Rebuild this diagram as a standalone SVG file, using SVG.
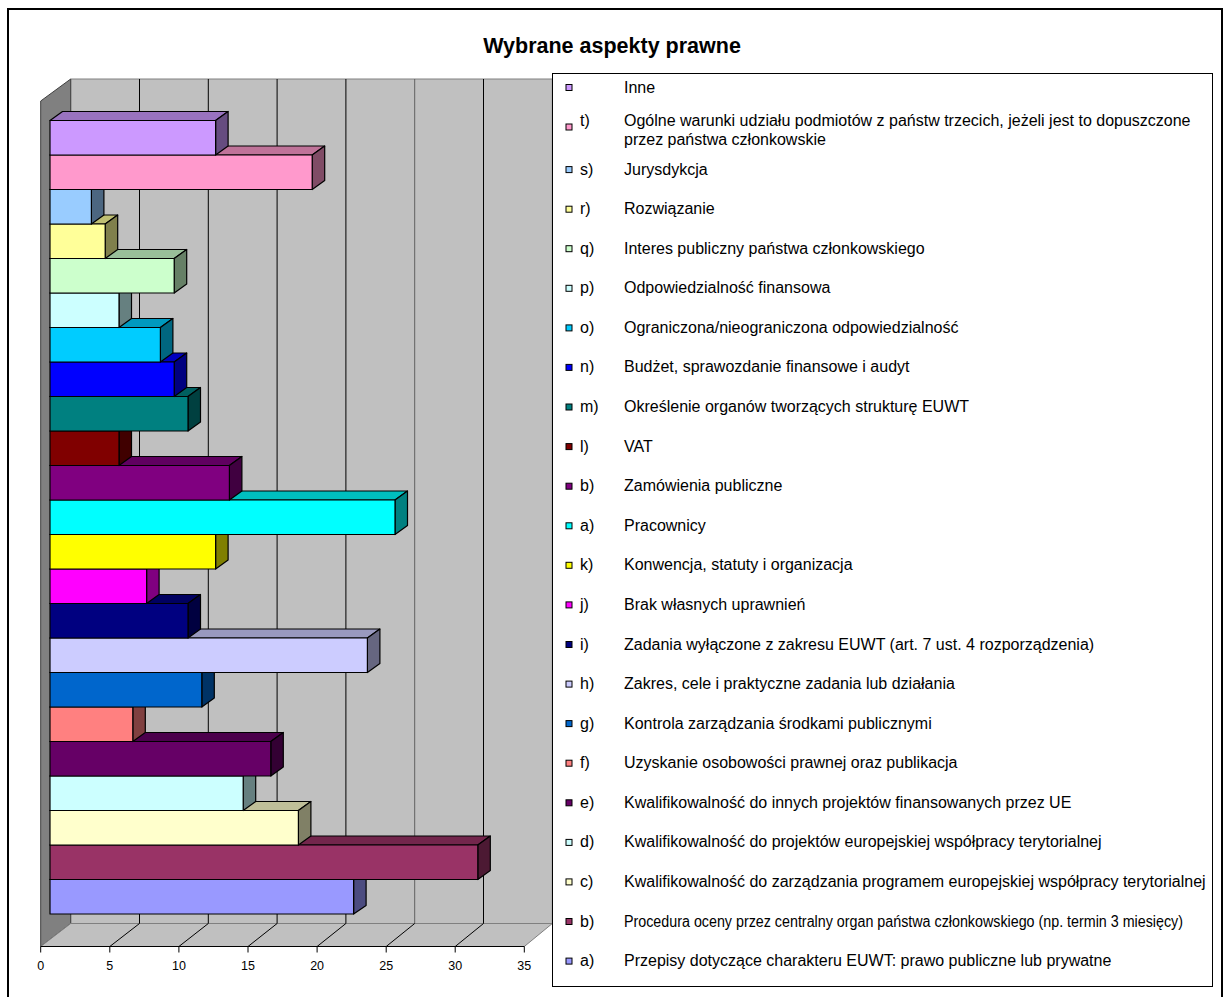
<svg xmlns="http://www.w3.org/2000/svg" width="1224" height="997" viewBox="0 0 1224 997">
<style>
text{font-family:"Liberation Sans",Arial,sans-serif;fill:#000}
.title{font-size:21.5px;font-weight:bold;text-anchor:middle}
.tick{font-size:12.5px;text-anchor:middle}
.lg{font-size:16px}
.bars polygon,.bars rect{stroke:#000;stroke-width:1.2;stroke-linejoin:round}
.grid{stroke:#000;stroke-width:1}
.mk{stroke:#000;stroke-width:1}
</style>
<rect x="8" y="9" width="1214" height="1000" fill="#fff" stroke="#000" stroke-width="2"/>
<text class="title" x="612" y="53">Wybrane aspekty prawne</text>

<g id="axes">
<polygon points="70.7,79 552.3,79 552.3,923.5 70.7,923.5" fill="#C0C0C0" stroke="#808080" stroke-width="1"/>
<polygon points="40.7,101 70.7,79 70.7,923.5 40.7,946.5" fill="#808080" stroke="#404040" stroke-width="1"/>
<polygon points="40.7,946.5 70.7,923.5 552.3,923.5 524.3,946.5" fill="#C0C0C0" stroke="#808080" stroke-width="1"/>
<g class="grid">
<line x1="139.5" y1="79" x2="139.5" y2="923.5"/>
<line x1="208.3" y1="79" x2="208.3" y2="923.5"/>
<line x1="277.1" y1="79" x2="277.1" y2="923.5"/>
<line x1="345.9" y1="79" x2="345.9" y2="923.5"/>
<line x1="414.7" y1="79" x2="414.7" y2="923.5" stroke="#606060"/>
<line x1="483.5" y1="79" x2="483.5" y2="923.5"/>
<line x1="139.5" y1="923.5" x2="109.8" y2="946.5"/>
<line x1="208.3" y1="923.5" x2="178.9" y2="946.5"/>
<line x1="277.1" y1="923.5" x2="248" y2="946.5"/>
<line x1="345.9" y1="923.5" x2="317.1" y2="946.5"/>
<line x1="414.7" y1="923.5" x2="386.2" y2="946.5"/>
<line x1="483.5" y1="923.5" x2="455.2" y2="946.5"/>
<line x1="40.7" y1="946.5" x2="524.3" y2="946.5"/>
<line x1="40.7" y1="946.5" x2="40.7" y2="952.5"/>
<line x1="109.8" y1="946.5" x2="109.8" y2="952.5"/>
<line x1="178.9" y1="946.5" x2="178.9" y2="952.5"/>
<line x1="248" y1="946.5" x2="248" y2="952.5"/>
<line x1="317.1" y1="946.5" x2="317.1" y2="952.5"/>
<line x1="386.2" y1="946.5" x2="386.2" y2="952.5"/>
<line x1="455.2" y1="946.5" x2="455.2" y2="952.5"/>
<line x1="524.3" y1="946.5" x2="524.3" y2="952.5"/>
</g>
<text class="tick" x="40.7" y="970">0</text>
<text class="tick" x="109.8" y="970">5</text>
<text class="tick" x="178.9" y="970">10</text>
<text class="tick" x="248" y="970">15</text>
<text class="tick" x="317.1" y="970">20</text>
<text class="tick" x="386.2" y="970">25</text>
<text class="tick" x="455.2" y="970">30</text>
<text class="tick" x="524.3" y="970">35</text>
</g>

<g class="bars">
<g id="bar-a-przepisy"><polygon fill="#7373BF" points="50,879.5 62.5,870.5 366.1,870.5 353.6,879.5"/><polygon fill="#4C4C80" points="353.6,879.5 366.1,870.5 366.1,905.5 353.6,914"/><rect fill="#9999FF" x="50" y="879.5" width="303.6" height="34.5"/></g>
<g id="bar-b-procedura"><polygon fill="#73264C" points="50,845 62.5,836 490.3,836 477.8,845"/><polygon fill="#4C1933" points="477.8,845 490.3,836 490.3,870.5 477.8,879.5"/><rect fill="#993366" x="50" y="845" width="427.8" height="34.5"/></g>
<g id="bar-c"><polygon fill="#BFBF99" points="50,810.5 62.5,801.5 310.9,801.5 298.4,810.5"/><polygon fill="#808066" points="298.4,810.5 310.9,801.5 310.9,836 298.4,845"/><rect fill="#FFFFCC" x="50" y="810.5" width="248.4" height="34.5"/></g>
<g id="bar-d"><polygon fill="#99BFBF" points="50,776 62.5,767 255.7,767 243.2,776"/><polygon fill="#668080" points="243.2,776 255.7,767 255.7,801.5 243.2,810.5"/><rect fill="#CCFFFF" x="50" y="776" width="193.2" height="34.5"/></g>
<g id="bar-e"><polygon fill="#4C004C" points="50,741.5 62.5,732.5 283.3,732.5 270.8,741.5"/><polygon fill="#330033" points="270.8,741.5 283.3,732.5 283.3,767 270.8,776"/><rect fill="#660066" x="50" y="741.5" width="220.8" height="34.5"/></g>
<g id="bar-f"><polygon fill="#BF6060" points="50,707 62.5,698 145.3,698 132.8,707"/><polygon fill="#804040" points="132.8,707 145.3,698 145.3,732.5 132.8,741.5"/><rect fill="#FF8080" x="50" y="707" width="82.8" height="34.5"/></g>
<g id="bar-g"><polygon fill="#004C99" points="50,672.5 62.5,663.5 214.3,663.5 201.8,672.5"/><polygon fill="#003366" points="201.8,672.5 214.3,663.5 214.3,698 201.8,707"/><rect fill="#0066CC" x="50" y="672.5" width="151.8" height="34.5"/></g>
<g id="bar-h"><polygon fill="#9999BF" points="50,638 62.5,629 379.9,629 367.4,638"/><polygon fill="#666680" points="367.4,638 379.9,629 379.9,663.5 367.4,672.5"/><rect fill="#CCCCFF" x="50" y="638" width="317.4" height="34.5"/></g>
<g id="bar-i"><polygon fill="#000060" points="50,603.5 62.5,594.5 200.5,594.5 188,603.5"/><polygon fill="#000040" points="188,603.5 200.5,594.5 200.5,629 188,638"/><rect fill="#000080" x="50" y="603.5" width="138" height="34.5"/></g>
<g id="bar-j"><polygon fill="#BF00BF" points="50,569 62.5,560 159.1,560 146.6,569"/><polygon fill="#800080" points="146.6,569 159.1,560 159.1,594.5 146.6,603.5"/><rect fill="#FF00FF" x="50" y="569" width="96.6" height="34.5"/></g>
<g id="bar-k"><polygon fill="#BFBF00" points="50,534.5 62.5,525.5 228.1,525.5 215.6,534.5"/><polygon fill="#808000" points="215.6,534.5 228.1,525.5 228.1,560 215.6,569"/><rect fill="#FFFF00" x="50" y="534.5" width="165.6" height="34.5"/></g>
<g id="bar-a-pracownicy"><polygon fill="#00BFBF" points="50,500 62.5,491 407.5,491 395,500"/><polygon fill="#008080" points="395,500 407.5,491 407.5,525.5 395,534.5"/><rect fill="#00FFFF" x="50" y="500" width="345" height="34.5"/></g>
<g id="bar-b-zamowienia"><polygon fill="#600060" points="50,465.5 62.5,456.5 241.9,456.5 229.4,465.5"/><polygon fill="#400040" points="229.4,465.5 241.9,456.5 241.9,491 229.4,500"/><rect fill="#800080" x="50" y="465.5" width="179.4" height="34.5"/></g>
<g id="bar-l"><polygon fill="#600000" points="50,431 62.5,422 131.5,422 119,431"/><polygon fill="#400000" points="119,431 131.5,422 131.5,456.5 119,465.5"/><rect fill="#800000" x="50" y="431" width="69" height="34.5"/></g>
<g id="bar-m"><polygon fill="#006060" points="50,396.5 62.5,387.5 200.5,387.5 188,396.5"/><polygon fill="#004040" points="188,396.5 200.5,387.5 200.5,422 188,431"/><rect fill="#008080" x="50" y="396.5" width="138" height="34.5"/></g>
<g id="bar-n"><polygon fill="#0000BF" points="50,362 62.5,353 186.7,353 174.2,362"/><polygon fill="#000080" points="174.2,362 186.7,353 186.7,387.5 174.2,396.5"/><rect fill="#0000FF" x="50" y="362" width="124.2" height="34.5"/></g>
<g id="bar-o"><polygon fill="#0099BF" points="50,327.5 62.5,318.5 172.9,318.5 160.4,327.5"/><polygon fill="#006680" points="160.4,327.5 172.9,318.5 172.9,353 160.4,362"/><rect fill="#00CCFF" x="50" y="327.5" width="110.4" height="34.5"/></g>
<g id="bar-p"><polygon fill="#99BFBF" points="50,293 62.5,284 131.5,284 119,293"/><polygon fill="#668080" points="119,293 131.5,284 131.5,318.5 119,327.5"/><rect fill="#CCFFFF" x="50" y="293" width="69" height="34.5"/></g>
<g id="bar-q"><polygon fill="#99BF99" points="50,258.5 62.5,249.5 186.7,249.5 174.2,258.5"/><polygon fill="#668066" points="174.2,258.5 186.7,249.5 186.7,284 174.2,293"/><rect fill="#CCFFCC" x="50" y="258.5" width="124.2" height="34.5"/></g>
<g id="bar-r"><polygon fill="#BFBF73" points="50,224 62.5,215 117.7,215 105.2,224"/><polygon fill="#80804C" points="105.2,224 117.7,215 117.7,249.5 105.2,258.5"/><rect fill="#FFFF99" x="50" y="224" width="55.2" height="34.5"/></g>
<g id="bar-s"><polygon fill="#7399BF" points="50,189.5 62.5,180.5 103.9,180.5 91.4,189.5"/><polygon fill="#4C6680" points="91.4,189.5 103.9,180.5 103.9,215 91.4,224"/><rect fill="#99CCFF" x="50" y="189.5" width="41.4" height="34.5"/></g>
<g id="bar-t"><polygon fill="#BF7399" points="50,155 62.5,146 324.7,146 312.2,155"/><polygon fill="#804C66" points="312.2,155 324.7,146 324.7,180.5 312.2,189.5"/><rect fill="#FF99CC" x="50" y="155" width="262.2" height="34.5"/></g>
<g id="bar-inne"><polygon fill="#9973BF" points="50,120.5 62.5,111.5 228.1,111.5 215.6,120.5"/><polygon fill="#664C80" points="215.6,120.5 228.1,111.5 228.1,146 215.6,155"/><rect fill="#CC99FF" x="50" y="120.5" width="165.6" height="34.5"/></g>
</g>

<g id="legend">
<rect x="552.5" y="73.5" width="660" height="913" fill="#fff" stroke="#000" stroke-width="1"/>
<g class="mk">
<rect x="566" y="84.5" width="6" height="6" fill="#CC99FF"/>
<rect x="566" y="124" width="6" height="6" fill="#FF99CC"/>
<rect x="566" y="166.6" width="6" height="6" fill="#99CCFF"/>
<rect x="566" y="206.2" width="6" height="6" fill="#FFFF99"/>
<rect x="566" y="245.7" width="6" height="6" fill="#CCFFCC"/>
<rect x="566" y="285.3" width="6" height="6" fill="#CCFFFF"/>
<rect x="566" y="324.9" width="6" height="6" fill="#00CCFF"/>
<rect x="566" y="364.4" width="6" height="6" fill="#0000FF"/>
<rect x="566" y="404" width="6" height="6" fill="#008080"/>
<rect x="566" y="443.6" width="6" height="6" fill="#800000"/>
<rect x="566" y="483.2" width="6" height="6" fill="#800080"/>
<rect x="566" y="522.8" width="6" height="6" fill="#00FFFF"/>
<rect x="566" y="562.3" width="6" height="6" fill="#FFFF00"/>
<rect x="566" y="601.9" width="6" height="6" fill="#FF00FF"/>
<rect x="566" y="641.5" width="6" height="6" fill="#000080"/>
<rect x="566" y="681.1" width="6" height="6" fill="#CCCCFF"/>
<rect x="566" y="720.6" width="6" height="6" fill="#0066CC"/>
<rect x="566" y="760.2" width="6" height="6" fill="#FF8080"/>
<rect x="566" y="799.8" width="6" height="6" fill="#660066"/>
<rect x="566" y="839.4" width="6" height="6" fill="#CCFFFF"/>
<rect x="566" y="878.9" width="6" height="6" fill="#FFFFCC"/>
<rect x="566" y="918.5" width="6" height="6" fill="#993366"/>
<rect x="566" y="958.1" width="6" height="6" fill="#9999FF"/>
</g>
<g class="lg">
<text x="624" y="92.5">Inne</text>
<text x="580" y="126">t)</text><text x="624" y="126">Ogólne warunki udziału podmiotów z państw trzecich, jeżeli jest to dopuszczone</text>
<text x="624" y="144.5">przez państwa członkowskie</text>
<text x="580" y="174.6">s)</text><text x="624" y="174.6">Jurysdykcja</text>
<text x="580" y="214.2">r)</text><text x="624" y="214.2">Rozwiązanie</text>
<text x="580" y="253.7">q)</text><text x="624" y="253.7">Interes publiczny państwa członkowskiego</text>
<text x="580" y="293.3">p)</text><text x="624" y="293.3">Odpowiedzialność finansowa</text>
<text x="580" y="332.9">o)</text><text x="624" y="332.9">Ograniczona/nieograniczona odpowiedzialność</text>
<text x="580" y="372.4">n)</text><text x="624" y="372.4">Budżet, sprawozdanie finansowe i audyt</text>
<text x="580" y="412">m)</text><text x="624" y="412">Określenie organów tworzących strukturę EUWT</text>
<text x="580" y="451.6">l)</text><text x="624" y="451.6">VAT</text>
<text x="580" y="491.2">b)</text><text x="624" y="491.2">Zamówienia publiczne</text>
<text x="580" y="530.8">a)</text><text x="624" y="530.8">Pracownicy</text>
<text x="580" y="570.3">k)</text><text x="624" y="570.3">Konwencja, statuty i organizacja</text>
<text x="580" y="609.9">j)</text><text x="624" y="609.9">Brak własnych uprawnień</text>
<text x="580" y="649.5">i)</text><text x="624" y="649.5">Zadania wyłączone z zakresu EUWT (art. 7 ust. 4 rozporządzenia)</text>
<text x="580" y="689.1">h)</text><text x="624" y="689.1">Zakres, cele i praktyczne zadania lub działania</text>
<text x="580" y="728.6">g)</text><text x="624" y="728.6">Kontrola zarządzania środkami publicznymi</text>
<text x="580" y="768.2">f)</text><text x="624" y="768.2">Uzyskanie osobowości prawnej oraz publikacja</text>
<text x="580" y="807.8">e)</text><text x="624" y="807.8">Kwalifikowalność do innych projektów finansowanych przez UE</text>
<text x="580" y="847.4">d)</text><text x="624" y="847.4">Kwalifikowalność do projektów europejskiej współpracy terytorialnej</text>
<text x="580" y="886.9">c)</text><text x="624" y="886.9">Kwalifikowalność do zarządzania programem europejskiej współpracy terytorialnej</text>
<text x="580" y="926.5">b)</text><text x="624" y="926.5" textLength="559" lengthAdjust="spacingAndGlyphs">Procedura oceny przez centralny organ państwa członkowskiego (np. termin 3 miesięcy)</text>
<text x="580" y="966.1">a)</text><text x="624" y="966.1">Przepisy dotyczące charakteru EUWT: prawo publiczne lub prywatne</text>
</g>
</g>
</svg>
